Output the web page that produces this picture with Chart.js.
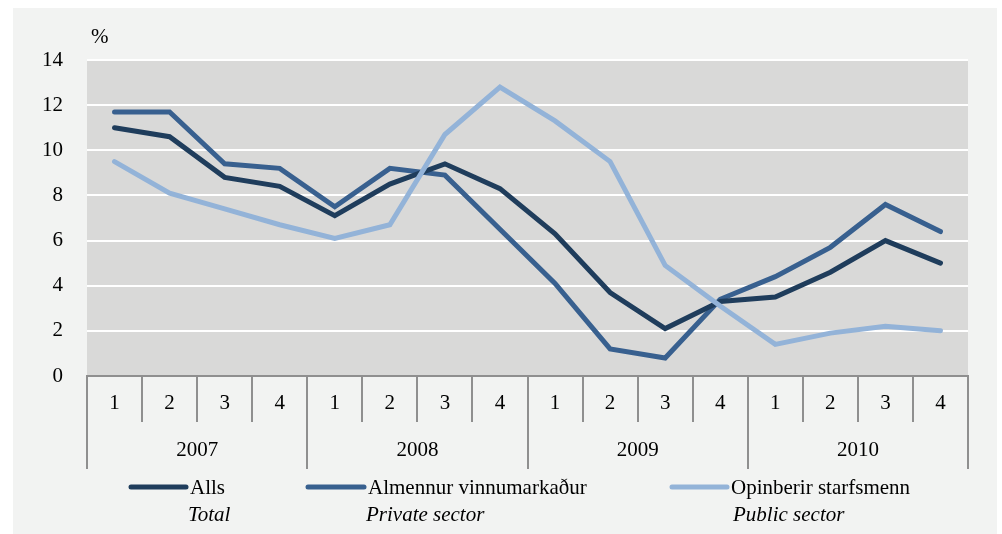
<!DOCTYPE html>
<html><head><meta charset="utf-8">
<script src="https://cdn.jsdelivr.net/npm/chart.js@4.4.0/dist/chart.umd.min.js"></script>
<style>html,body{margin:0;padding:0;background:#fff;}#wrap{width:1002px;height:534px;position:relative;}canvas{display:block;}</style>
</head><body><div id="wrap"><canvas id="c" width="1002" height="534"></canvas></div>
<script>
const quarterLabels = ['1','2','3','4','1','2','3','4','1','2','3','4','1','2','3','4'];
const yearLabels = ['2007','2008','2009','2010'];
const seriesNames = ['Alls','Almennur vinnumarkaður','Opinberir starfsmenn'];
const seriesNamesEn = ['Total','Private sector','Public sector'];
const allsValues = [11.0,10.6,8.8,8.4,7.1,8.5,9.4,8.3,6.3,3.7,2.1,3.3,3.5,4.6,6.0,5.0];
const privateValues = [11.7,11.7,9.4,9.2,7.5,9.2,8.9,6.5,4.1,1.2,0.8,3.4,4.4,5.7,7.6,6.4];
const publicValues = [9.5,8.1,7.4,6.7,6.1,6.7,10.7,12.8,11.3,9.5,4.9,3.1,1.4,1.9,2.2,2.0];
const yMin = 0, yMax = 14, yStep = 2;

const FONT = '"Liberation Serif", "Times New Roman", serif';
const AXIS_GRAY = '#8f8f8f';
const colors = ['#1f3d5c', '#38608f', '#93b3d8'];

const panelPlugin = {
  id: 'panel',
  beforeDraw(chart) {
    const ctx = chart.ctx, a = chart.chartArea;
    ctx.save();
    ctx.fillStyle = '#f2f3f2';
    ctx.fillRect(13, 8, 984, 526);
    ctx.fillStyle = '#d9d9d8';
    ctx.fillRect(a.left, a.top, a.right - a.left, a.bottom - a.top);
    ctx.restore();
  },
  afterDraw(chart) {
    const ctx = chart.ctx, a = chart.chartArea;
    ctx.save();
    ctx.fillStyle = '#000';
    ctx.font = '21px ' + FONT;
    ctx.textBaseline = 'alphabetic';
    ctx.textAlign = 'left';
    ctx.fillText('%', a.left + 4, 43);
    const pos = [{x1:131, x2:186, tx:190, ex:188}, {x1:308, x2:364, tx:368, ex:366}, {x1:672, x2:727, tx:731, ex:733}];
    chart.data.datasets.forEach((ds, i) => {
      const p = pos[i];
      ctx.strokeStyle = ds.borderColor;
      ctx.lineWidth = 5;
      ctx.lineCap = 'round';
      ctx.beginPath(); ctx.moveTo(p.x1, 487); ctx.lineTo(p.x2, 487); ctx.stroke();
      ctx.fillStyle = '#000';
      ctx.font = '21px ' + FONT;
      ctx.fillText(seriesNames[i], p.tx, 494);
      ctx.font = 'italic 21px ' + FONT;
      ctx.fillText(seriesNamesEn[i], p.ex, 521);
    });
    ctx.restore();
  }
};

const tickFont = { family: FONT, size: 21 };
function mkLine(label, data, color, order) {
  return { label, data, borderColor: color, backgroundColor: color, borderWidth: 5, pointRadius: 0,
    pointHoverRadius: 0, tension: 0, borderCapStyle: 'round', borderJoinStyle: 'miter', fill: false, order };
}

new Chart(document.getElementById('c'), {
  type: 'line',
  data: {
    labels: quarterLabels,
    datasets: [
      mkLine(seriesNames[0], allsValues, colors[0], 1),
      mkLine(seriesNames[1], privateValues, colors[1], 2),
      mkLine(seriesNames[2], publicValues, colors[2], 0)
    ]
  },
  options: {
    responsive: false,
    animation: false,
    devicePixelRatio: 1,
    layout: { padding: { left: 13, top: 60, right: 34, bottom: 65 } },
    plugins: { legend: { display: false }, tooltip: { enabled: false }, title: { display: false } },
    scales: {
      x: {
        type: 'category', position: 'bottom', offset: true,
        grid: { offset: true, drawOnChartArea: false, drawTicks: true, tickLength: 46, color: AXIS_GRAY, lineWidth: 2 },
        border: { display: true, color: AXIS_GRAY, width: 2 },
        ticks: { padding: -31.6, color: '#000', font: tickFont, maxRotation: 0, autoSkip: false },
        afterFit(s) { s.height = 46; s.paddingLeft = 0; s.paddingRight = 0; }
      },
      x2: {
        type: 'category', labels: yearLabels, position: 'bottom', offset: true,
        grid: { offset: true, drawOnChartArea: false, drawTicks: true, tickLength: 47, color: AXIS_GRAY, lineWidth: 2 },
        border: { display: false },
        ticks: { padding: -31.6, color: '#000', font: tickFont, maxRotation: 0, autoSkip: false },
        afterFit(s) { s.height = 47; s.paddingLeft = 0; s.paddingRight = 0; }
      },
      y: {
        min: yMin, max: yMax,
        ticks: { stepSize: yStep, padding: 24, color: '#000', font: tickFont },
        grid: { color: '#ffffff', lineWidth: 2, drawTicks: false },
        border: { display: false },
        afterFit(s) { s.width = 74; s.paddingTop = 0; s.paddingBottom = 0; }
      }
    }
  },
  plugins: [panelPlugin]
});
</script></body></html>
